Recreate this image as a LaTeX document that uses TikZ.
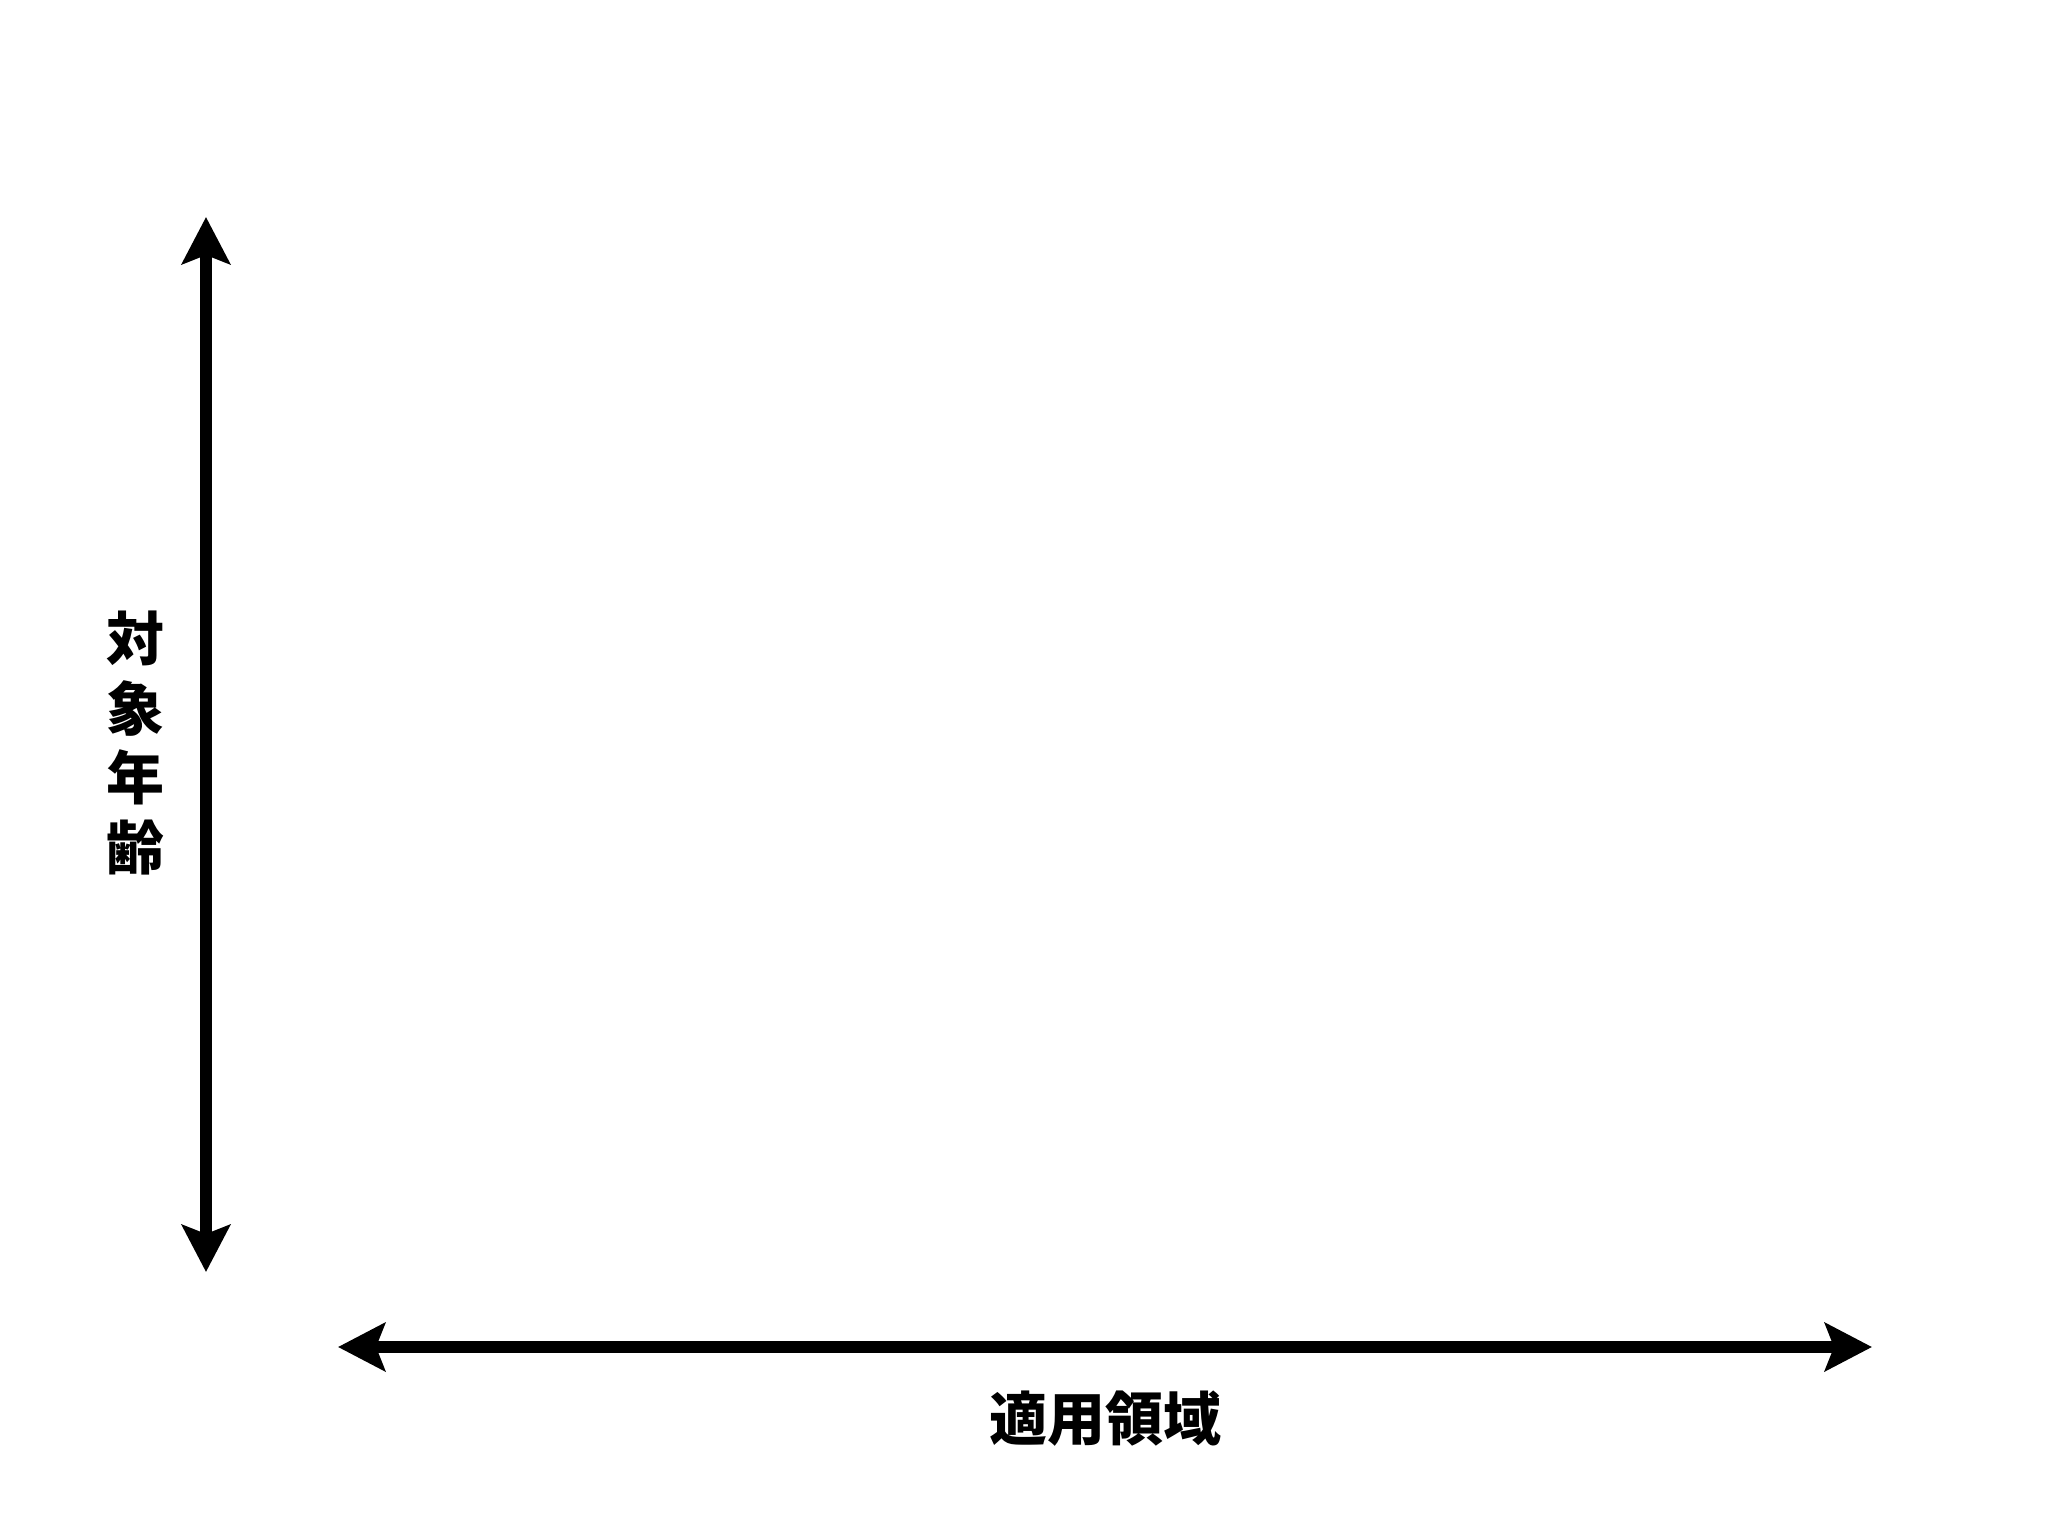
\documentclass[tikz,border=0pt]{standalone}
\usepackage{fontspec}
\newfontfamily\cjk{Noto Sans CJK JP}
\usetikzlibrary{arrows.meta}
\tikzset{
  axis/.style={line width=12pt, {Stealth[length=47pt,width=48pt,inset=9pt]}-{Stealth[length=47pt,width=48pt,inset=9pt]}},
  lbl/.style={inner sep=0pt, align=center, font=\cjk\bfseries\fontsize{58}{69.5}\selectfont}
}
\begin{document}
\begin{tikzpicture}[x=1pt,y=-1pt]
\useasboundingbox (0,0) rectangle (2048,1536);
\coordinate (vtop) at (206,217);
\coordinate (vbot) at (206,1272);
\coordinate (hleft) at (338,1347);
\coordinate (hright) at (1872,1347);
\draw[axis] (vtop) -- (vbot);
\draw[axis] (hleft) -- (hright);
\node[lbl] (ylabel) at (135,743) {対\\象\\年\\齢};
\node[lbl] (xlabel) at (1105,1419) {適用領域};
\end{tikzpicture}
\end{document}
